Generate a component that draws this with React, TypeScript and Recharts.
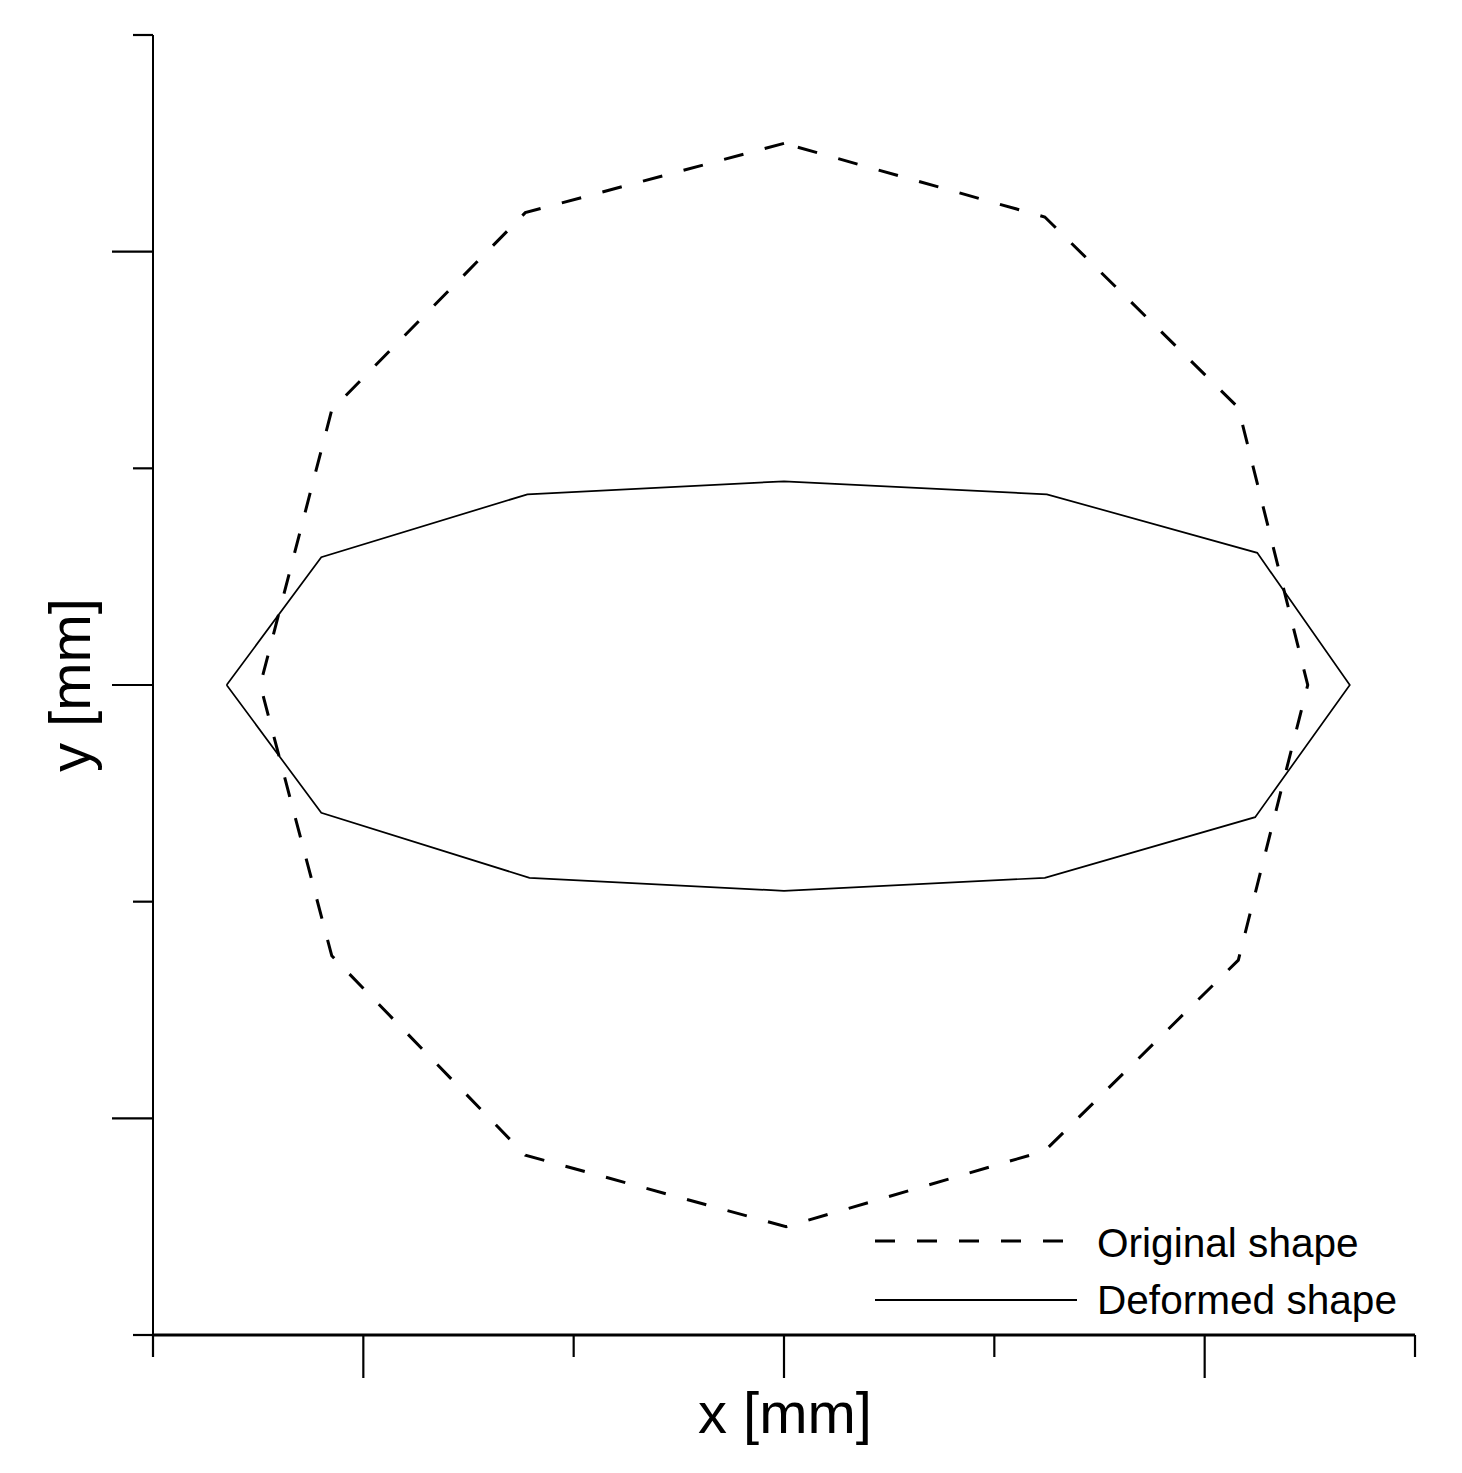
import React from 'react';
import { LineChart, Line, XAxis, YAxis, Legend } from 'recharts';

const originalX = [0, -12.3, -21.5, -24.9, -21.5, -12.3, 0.1, 12.4, 21.6, 24.9, 21.6, 12.4, 0];
const originalY = [25, 21.8, 12.7, 0, -12.5, -21.7, -25, -21.5, -12.7, 0, 12.8, 21.6, 25];

const deformedX = [-26.5, -22.0, -12.2, 0, 12.5, 22.5, 26.9, 22.4, 12.4, 0, -12.1, -22.0, -26.5];
const deformedY = [0, 5.9, 8.8, 9.4, 8.8, 6.1, 0, -6.1, -8.9, -9.5, -8.9, -5.9, 0];

const xTicks = [-30, -20, -10, 0, 10, 20, 30];
const yTicks = [-30, -20, -10, 0, 10, 20, 30];

const original = originalX.map((x, i) => ({ x, y: originalY[i] }));
const deformed = deformedX.map((x, i) => ({ x, y: deformedY[i] }));

const FONT = '"Liberation Sans", Arial, sans-serif';

const XTick = (props: any) => {
  const { x, y, index } = props;
  const len = index % 2 === 1 ? 43 : 22;
  return <line x1={x} x2={x} y1={y} y2={y + len} stroke="#000" strokeWidth={2.2} />;
};

const YTick = (props: any) => {
  const { x, y, index } = props;
  const len = index % 2 === 1 ? 41 : 20;
  return <line x1={x} x2={x - len} y1={y} y2={y} stroke="#000" strokeWidth={2.2} />;
};

const XLabel = (props: any) => {
  const vb = props.viewBox || {};
  return (
    <text
      x={vb.x + vb.width / 2 + 1}
      y={vb.y + 98}
      textAnchor="middle"
      fontFamily={FONT}
      fontSize={58}
      fill="#000"
    >
      x [mm]
    </text>
  );
};

const YLabel = (props: any) => {
  const vb = props.viewBox || {};
  const cx = vb.x + 90;
  const cy = vb.y + vb.height / 2;
  return (
    <text
      x={cx}
      y={cy}
      transform={`rotate(-90, ${cx}, ${cy})`}
      textAnchor="middle"
      fontFamily={FONT}
      fontSize={58}
      fill="#000"
    >
      y [mm]
    </text>
  );
};

const legendItems = [
  { name: 'Original shape', dash: '20 22', width: 3, len: 188 },
  { name: 'Deformed shape', dash: undefined, width: 2, len: 202 },
];

const renderLegend = () => (
  <svg width={560} height={110}>
    {legendItems.map((it, i) => (
      <g key={it.name}>
        <line
          x1={15}
          x2={15 + it.len}
          y1={26 + i * 59}
          y2={26 + i * 59}
          stroke="#000"
          strokeWidth={it.width}
          strokeDasharray={it.dash}
        />
        <text x={237} y={42 + i * 57} fontFamily={FONT} fontSize={40.6} fill="#000">
          {it.name}
        </text>
      </g>
    ))}
  </svg>
);

export default function App() {
  return (
    <div style={{ position: 'absolute', left: 0, top: 0, background: '#fff' }}>
      <LineChart
        width={1462}
        height={1473}
        margin={{ top: 35, right: 47, bottom: 0, left: 0 }}
      >
        <XAxis
          type="number"
          dataKey="x"
          domain={[-30, 30]}
          ticks={xTicks}
          interval={0}
          height={138}
          tickSize={0}
          tickMargin={0}
          tickLine={false}
          tick={<XTick />}
          axisLine={{ stroke: '#000', strokeWidth: 2.8 }}
          allowDataOverflow
          label={<XLabel />}
        />
        <YAxis
          type="number"
          dataKey="y"
          domain={[-30, 30]}
          ticks={yTicks}
          interval={0}
          width={153}
          tickSize={0}
          tickMargin={0}
          tickLine={false}
          tick={<YTick />}
          axisLine={{ stroke: '#000', strokeWidth: 2 }}
          allowDataOverflow
          label={<YLabel />}
        />
        <Legend
          layout="horizontal"
          verticalAlign="middle"
          align="center"
          wrapperStyle={{ left: 860, top: 1215, width: 560, height: 110 }}
          content={renderLegend}
        />
        <Line
          data={original}
          dataKey="y"
          name="Original shape"
          stroke="#000"
          strokeWidth={3}
          strokeDasharray="20 22"
          dot={false}
          activeDot={false}
          isAnimationActive={false}
        />
        <Line
          data={deformed}
          dataKey="y"
          name="Deformed shape"
          stroke="#000"
          strokeWidth={1.7}
          dot={false}
          activeDot={false}
          isAnimationActive={false}
        />
      </LineChart>
    </div>
  );
}
